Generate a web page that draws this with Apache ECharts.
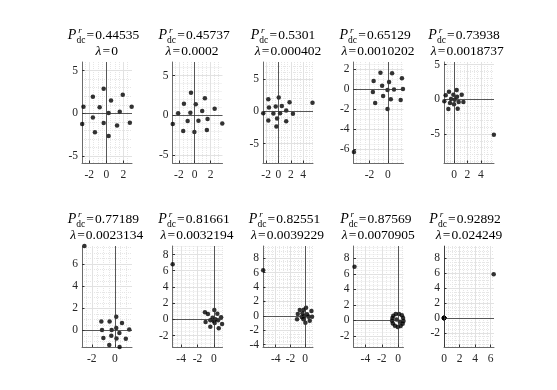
<!DOCTYPE html>
<html>
<head>
<meta charset="utf-8">
<script src="https://cdn.jsdelivr.net/npm/echarts@6/dist/echarts.min.js"></script>
<style>
html,body{margin:0;padding:0;background:#fff}
#main{width:557px;height:390px}
</style>
</head>
<body>
<div id="main"></div>
<script>
// titles
var pdcLabels = ['0.44535','0.45737','0.5301','0.65129','0.73938','0.77189','0.81661','0.82551','0.87569','0.92892'];
var lambdaLabels = ['0','0.0002','0.000402','0.0010202','0.0018737','0.0023134','0.0032194','0.0039229','0.0070905','0.024249'];

// points of each panel, [x, y]
var s1 = [[-2.67,0.78],[-2.82,-1.24],[-1.57,1.94],[-1.57,-0.47],[-1.33,-2.21],[-0.78,0.70],[-0.31,2.87],[-0.31,-1.12],[0.27,0.04],[0.27,-2.64],[0.55,1.51],[1.25,-1.43],[1.57,0.19],[1.92,2.17],[2.75,-1.09],[2.96,0.78]];
var s2 = [[-2.77,-1.09],[-2.09,0.25],[-1.36,1.47],[-1.45,-1.97],[-0.89,-0.71],[-0.55,0.34],[-0.47,2.86],[-0.04,-2.10],[0.13,1.39],[0.47,-0.67],[0.94,0.55],[1.28,2.14],[1.62,-0.46],[1.53,-1.85],[2.51,0.84],[3.47,-1.01]];
var s3 = [[-2.46,-0.31],[-1.64,1.86],[-1.53,0.57],[-1.64,-1.44],[-0.82,-0.36],[-0.44,0.72],[-0.22,-1.13],[-0.33,-2.37],[0.05,2.11],[0.27,-0.31],[0.55,0.82],[1.26,0.10],[1.26,-1.55],[1.80,1.39],[2.35,-0.41],[5.52,1.29]];
var s4 = [[-3.70,-6.27],[-0.80,1.66],[0.47,1.60],[1.55,1.10],[-1.55,0.83],[0.14,0.73],[-0.62,0.36],[-0.03,-0.07],[0.68,-0.03],[1.66,0.03],[-1.63,-0.27],[-0.51,-0.67],[0.33,-1.00],[1.41,-1.07],[-1.38,-1.37],[-0.03,-1.97]];
var s5 = [[5.96,-5.12],[-0.75,1.08],[0.40,1.33],[-1.25,0.56],[-0.10,0.65],[1.15,0.65],[0.45,0.36],[-0.45,0.03],[-1.45,-0.30],[0.10,-0.07],[0.70,-0.40],[1.40,-0.40],[-0.60,-0.55],[0.00,-0.74],[-0.85,-1.41],[0.55,-1.37]];
var s6 = [[-2.64,7.65],[0.13,1.24],[-1.17,0.81],[-0.45,0.81],[0.63,0.67],[0.13,0.22],[-1.11,0.03],[-0.27,0.03],[1.26,0.09],[0.40,-0.24],[-0.30,-0.48],[-0.99,-0.69],[0.15,-0.72],[0.96,-0.75],[-0.48,-1.32],[0.42,-1.50]];
var s7 = [[-5.04,6.79],[0.06,1.15],[-1.09,0.86],[-0.72,0.65],[0.43,0.69],[0.89,0.25],[-0.15,0.20],[0.19,0.00],[-0.43,-0.12],[0.52,-0.12],[-1.01,-0.33],[0.10,-0.46],[1.01,-0.58],[-0.43,-0.91],[0.60,-1.11],[-0.02,-0.21]];
var s8 = [[-5.70,6.30],[0.11,1.12],[-0.74,0.80],[-0.20,0.85],[0.84,0.66],[-1.01,0.25],[-0.38,0.35],[0.24,0.20],[-0.16,-0.07],[0.43,-0.12],[0.92,-0.12],[-1.11,-0.49],[-0.24,-0.49],[0.61,-0.67],[0.02,-0.95],[-0.47,-0.17]];
var s9 = [[-5.33,6.92],[-0.70,0.30],[-0.60,0.60],[-0.30,0.80],[0.10,0.80],[0.45,0.65],[0.60,0.30],[0.65,-0.10],[0.55,-0.45],[0.30,-0.75],[-0.05,-0.85],[-0.40,-0.70],[-0.65,-0.40],[-0.75,-0.05],[-0.20,0.10],[0.20,-0.20]];
var s10 = [[6.39,5.85],[0,0],[0,0],[0,0],[0,0],[0,0],[0,0],[0,0],[0,0],[0,0],[0,0],[0,0],[0,0],[0,0],[0,0],[0,0]];

var sets = [s1,s2,s3,s4,s5,s6,s7,s8,s9,s10];

// axis limits and tick steps
var xLim = [[-2.84,3.0],[-2.8,3.5],[-2.5,5.6],[-3.75,1.72],[-1.5,5.98],[-2.85,1.5],[-5.06,1.06],[-5.72,1.05],[-5.45,0.65],[-0.01,6.43]];
var yLim = [[-5.8,6.0],[-6.0,6.72],[-8.0,7.6],[-7.37,2.73],[-9.2,5.37],[-1.5,7.65],[-3.42,9.05],[-4.32,9.67],[-3.45,9.6],[-3.88,9.64]];
var xStep = [2,2,2,2,2,2,2,2,2,2];
var yStep = [5,5,5,2,5,2,2,2,2,2];

// layout
var colLeft = [82, 172.5, 263, 353.5, 444];
var rowTop = [62, 246];
var title1Top = [26, 210];
var title2Top = [43.5, 227.5];
var t1x = [103.5,194.2,283,375.2,464,103.3,194,284.5,375.8,465];
var t2x = [106.7,192,288,378,467.3,106.7,197,287.5,378.3,469];

var serif = '"Liberation Serif","Times New Roman",serif';
var myChart = echarts.init(document.getElementById('main'));

function mainAxis(i, lim, step, dir){
	return {
		gridIndex: i, type: 'value', min: lim[0], max: lim[1],
		minInterval: step, maxInterval: step, z: 1,
		axisLine: {show: true, onZero: false, lineStyle: {color: '#6b6b6b', width: 1}},
		axisTick: {show: true, inside: true, length: 2.5, lineStyle: {color: '#333'}},
		axisLabel: {showMinLabel: false, showMaxLabel: false, margin: dir == 'x' ? 5.5 : 4,
			fontFamily: serif, fontSize: 11.5, color: '#262626'},
		splitLine: {show: true, showMinLine: false, showMaxLine: false, lineStyle: {color: '#e2e2e2', width: 1}}
	};
}
function minorAxis(i, lim, step){
	return {
		gridIndex: i, type: 'value', min: lim[0], max: lim[1],
		minInterval: step, maxInterval: step, z: 0,
		axisLine: {show: false}, axisTick: {show: false}, axisLabel: {show: false},
		splitLine: {show: true, showMinLine: false, showMaxLine: false, lineStyle: {color: '#e6e6e6', width: 1, type: [1, 1]}}
	};
}

var rich1 = {
	p: {fontFamily: serif, fontStyle: 'italic', fontWeight: 'normal', fontSize: 14, lineHeight: 19, verticalAlign: 'middle', align: 'left', color: '#000'},
	r: {fontFamily: serif, fontStyle: 'italic', fontWeight: 'normal', fontSize: 9, lineHeight: 12, width: 0, verticalAlign: 'top', align: 'left', color: '#000'},
	s: {fontFamily: serif, fontWeight: 'normal', fontSize: 9.5, lineHeight: 10, verticalAlign: 'bottom', align: 'left', color: '#000'},
	v: {fontFamily: serif, fontWeight: 'normal', fontSize: 13.5, lineHeight: 19, verticalAlign: 'middle', align: 'left', color: '#000'}
};
var rich2 = {
	l: {fontFamily: serif, fontStyle: 'italic', fontWeight: 'normal', fontSize: 13.5, lineHeight: 15, align: 'left', color: '#000'},
	v: {fontFamily: serif, fontWeight: 'normal', fontSize: 13.5, lineHeight: 15, align: 'left', color: '#000'}
};

var grids = [], xAxes = [], yAxes = [], series = [], titles = [];
for (var i = 0; i < 10; i++){
	var row = Math.floor(i / 5), col = i % 5;
	grids.push({left: colLeft[col], top: rowTop[row], width: 50, height: 101});
	xAxes.push(mainAxis(i, xLim[i], xStep[i], 'x'));
	yAxes.push(mainAxis(i, yLim[i], yStep[i], 'y'));
	series.push({
		type: 'scatter', xAxisIndex: i, yAxisIndex: i, data: sets[i],
		symbolSize: 4.5, itemStyle: {color: '#000'}, clip: false, silent: true, z: 3,
		markLine: {
			silent: true, symbol: 'none', label: {show: false}, animation: false,
			lineStyle: {color: '#333', width: 0.8, type: 'solid'},
			data: [{xAxis: 0}, {yAxis: 0}]
		}
	});
	titles.push({
		left: t1x[i], top: title1Top[row], textAlign: 'center', padding: 0,
		text: '{p|P}{r|\u2009r}{s|dc}{v|\u200a=\u200a' + pdcLabels[i] + '}',
		textStyle: {fontWeight: 'normal', rich: rich1}
	});
	titles.push({
		left: t2x[i], top: title2Top[row], textAlign: 'center', padding: 0,
		text: '{l|\u03bb}{v|\u200a=\u200a' + lambdaLabels[i] + '}',
		textStyle: {fontWeight: 'normal', rich: rich2}
	});
}
// minor grid (dotted) on separate hidden axes
for (i = 0; i < 10; i++){
	xAxes.push(minorAxis(i, xLim[i], xStep[i] / 4));
	yAxes.push(minorAxis(i, yLim[i], yStep[i] == 5 ? 1 : 0.5));
}

myChart.setOption({
	animation: false,
	backgroundColor: '#fff',
	title: titles,
	grid: grids,
	xAxis: xAxes,
	yAxis: yAxes,
	series: series
});
</script>
</body>
</html>
